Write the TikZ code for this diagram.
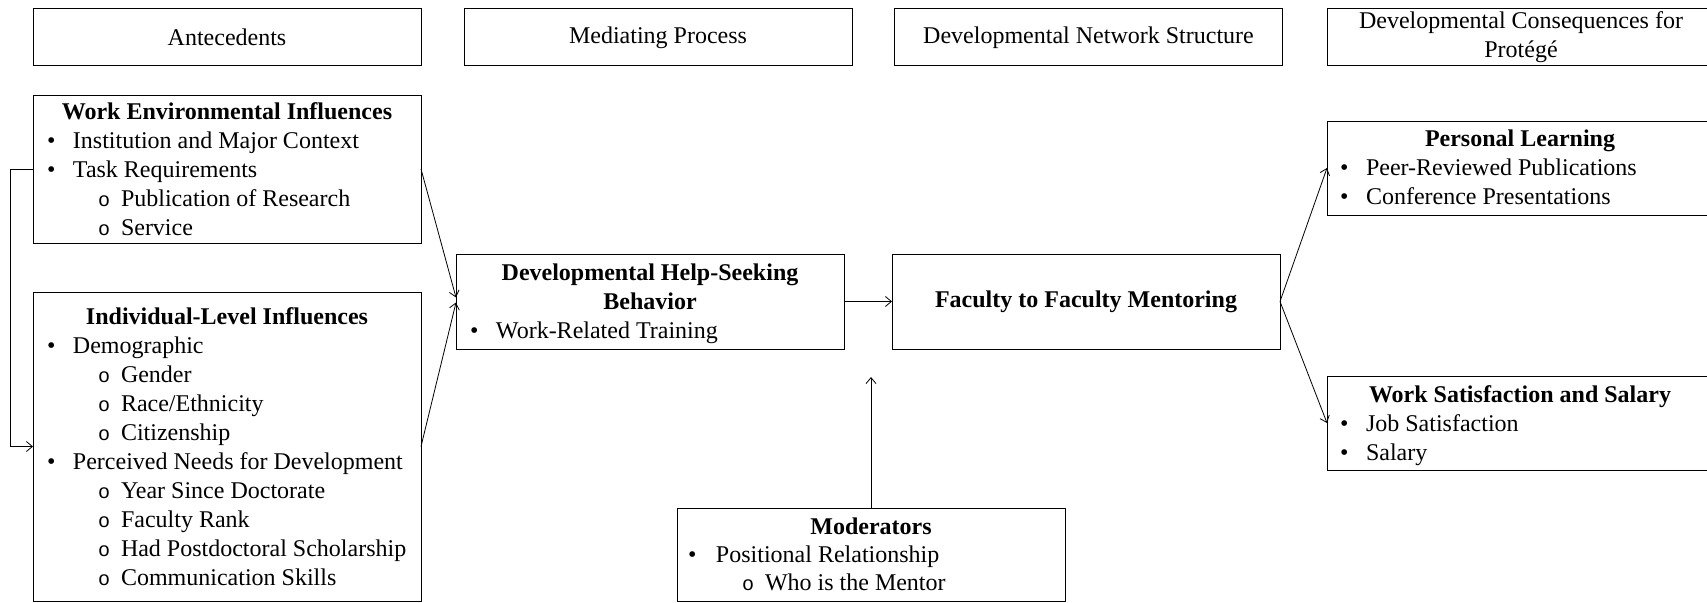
\documentclass[tikz,border=0pt]{standalone}
\usepackage{fontspec}
\setmainfont{Liberation Serif}
\newfontfamily\monofont{Liberation Mono}
\usetikzlibrary{arrows.meta}
\newcommand\itm[1]{\makebox[26pt][l]{•}#1}
\newcommand\sitm[1]{\makebox[23pt][l]{\monofont\fontsize{20}{29}\selectfont o}#1}
\tikzset{
 box/.style={draw, line width=1pt, inner sep=0pt, outer sep=0pt},
 hdr/.style={box, minimum width=388pt, minimum height=57pt, align=center, font=\fontsize{24}{29}\selectfont},
 txt/.style={inner sep=0pt, outer sep=0pt, font=\fontsize{24}{29}\selectfont},
 ttl/.style={txt, font=\fontsize{24}{29}\selectfont\bfseries},
 arr/.style={line width=0.8pt, -{Straight Barb[length=6pt,width=10pt]}}
}
\begin{document}
\begin{tikzpicture}[x=1pt,y=-1pt]
\clip (0,0) rectangle (1707,602);
\fill[white] (0,0) rectangle (1707,602);
% headers
\node[hdr] (h1) at (227,37.5) {Antecedents};
\node[hdr] (h2) at (658,37.5) {Mediating Process};
\node[hdr] (h3) at (1088.5,37.5) {Developmental Network Structure};
\node[hdr] (h4) at (1521,37.5) {Developmental Consequences for\\Protégé};
% boxes
\node[box, minimum width=388pt, minimum height=148pt] (work) at (227,169) {};
\node[box, minimum width=388pt, minimum height=309pt] (indiv) at (227,446.5) {};
\node[box, minimum width=388pt, minimum height=95pt] (help) at (650,301.5) {};
\node[box, minimum width=388pt, minimum height=95pt, font=\fontsize{24}{29}\selectfont\bfseries] (fac) at (1086,301.5) {Faculty to Faculty Mentoring};
\node[box, minimum width=388pt, minimum height=94pt] (pers) at (1521,168) {};
\node[box, minimum width=388pt, minimum height=94pt] (sat) at (1521,423) {};
\node[box, minimum width=388pt, minimum height=93pt] (mod) at (871,554.5) {};
% work env text
\node[ttl,anchor=base] (w0) at (227,119) {Work Environmental Influences};
\node[txt,anchor=base west] (w1) at (47,148) {\itm{Institution and Major Context}};
\node[txt,anchor=base west] (w2) at (47,177) {\itm{Task Requirements}};
\node[txt,anchor=base west] (w3) at (98,206) {\sitm{Publication of Research}};
\node[txt,anchor=base west] (w4) at (98,235) {\sitm{Service}};
% individual text
\node[ttl,anchor=base] (i0) at (227,324) {Individual-Level Influences};
\node[txt,anchor=base west] (i1) at (47,353) {\itm{Demographic}};
\node[txt,anchor=base west] (i2) at (98,382) {\sitm{Gender}};
\node[txt,anchor=base west] (i3) at (98,411) {\sitm{Race/Ethnicity}};
\node[txt,anchor=base west] (i4) at (98,440) {\sitm{Citizenship}};
\node[txt,anchor=base west] (i5) at (47,469) {\itm{Perceived Needs for Development}};
\node[txt,anchor=base west] (i6) at (98,498) {\sitm{Year Since Doctorate}};
\node[txt,anchor=base west] (i7) at (98,527) {\sitm{Faculty Rank}};
\node[txt,anchor=base west] (i8) at (98,556) {\sitm{Had Postdoctoral Scholarship}};
\node[txt,anchor=base west] (i9) at (98,585) {\sitm{Communication Skills}};
% help-seeking text
\node[ttl,anchor=base] (hs0) at (650,280) {Developmental Help-Seeking};
\node[ttl,anchor=base] (hs1) at (650,309) {Behavior};
\node[txt,anchor=base west] (hs2) at (470,338) {\itm{Work-Related Training}};
% personal learning text
\node[ttl,anchor=base] (p0) at (1520,146) {Personal Learning};
\node[txt,anchor=base west] (p1) at (1340,175) {\itm{Peer-Reviewed Publications}};
\node[txt,anchor=base west] (p2) at (1340,204) {\itm{Conference Presentations}};
% work satisfaction text
\node[ttl,anchor=base] (s0) at (1520,402) {Work Satisfaction and Salary};
\node[txt,anchor=base west] (s1) at (1340,431) {\itm{Job Satisfaction}};
\node[txt,anchor=base west] (s2) at (1340,460) {\itm{Salary}};
% moderators text
\node[ttl,anchor=base] (m0) at (871,534) {Moderators};
\node[txt,anchor=base west] (m1) at (688,562) {\makebox[28pt][l]{•}Positional Relationship};
\node[txt,anchor=base west] (m2) at (742,590) {\sitm{Who is the Mentor}};
% connectors
\coordinate (modend) at (871,377);
\draw[arr] (work.west) -- ++(-23,0) |- (indiv.west);
\draw[arr] (work.east) -- ([yshift=4pt]help.west);
\draw[arr] (indiv.east) -- ([yshift=-1pt]help.west);
\draw[arr] (help.east) -- (fac.west);
\draw[arr] (fac.east) -- (pers.west);
\draw[arr] (fac.east) -- (sat.west);
\draw[arr] (mod.north) -- (modend);
\end{tikzpicture}
\end{document}
